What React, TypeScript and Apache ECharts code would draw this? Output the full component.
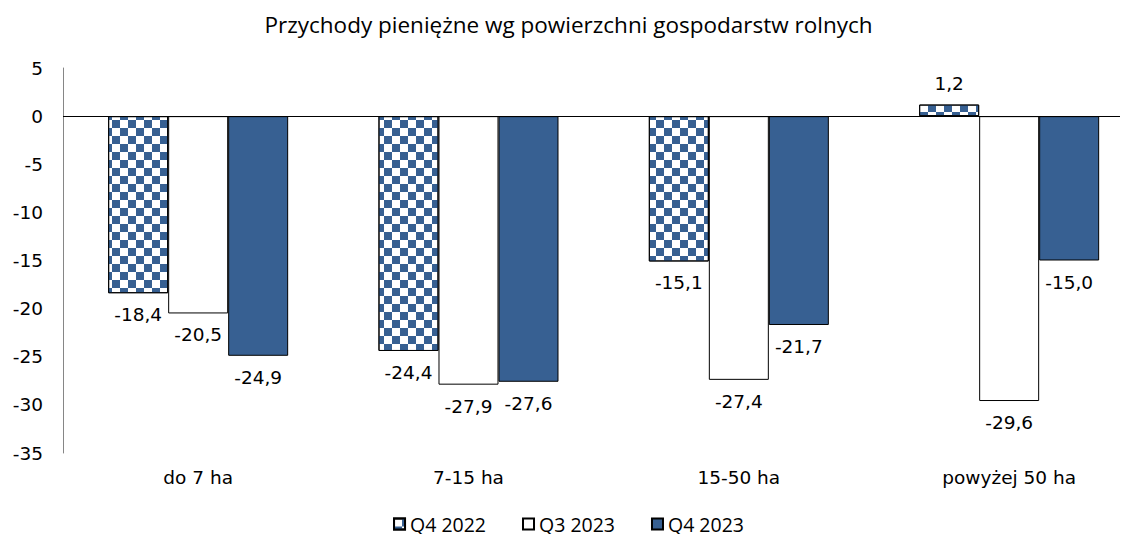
import React, { useEffect, useRef } from "react";
import * as echarts from "echarts";

const categories = ["do 7 ha", "7-15 ha", "15-50 ha", "powyżej 50 ha"];
const seriesNames = ["Q4 2022", "Q3 2023", "Q4 2023"];
const q42022 = [-18.4, -24.4, -15.1, 1.2];
const q32023 = [-20.5, -27.9, -27.4, -29.6];
const q42023 = [-24.9, -27.6, -21.7, -15.0];
const yTicks = { min: -35, max: 5, interval: 5 };

const BLUE = "#376092";
const FONT = "DejaVu Sans";
const FS = 18.5;

function fmt(v: number) {
  return v.toFixed(1).replace(".", ",");
}

function toData(vals: number[]) {
  return vals.map((v, i) => ({
    value: [i, v],
    label: { position: v >= 0 ? "top" : "bottom" },
  }));
}

export default function App() {
  const ref = useRef<HTMLDivElement>(null);
  useEffect(() => {
    if (!ref.current) return;
    const chart = echarts.init(ref.current, undefined, { renderer: "svg" });
    const label = {
      show: true,
      distance: 12,
      fontFamily: FONT,
      fontSize: FS,
      color: "#000",
      formatter: (p: any) => fmt(p.value[1]),
    };
    chart.setOption({
      animation: false,
      backgroundColor: "#fff",
      title: {
        text: "Przychody pieniężne wg powierzchni gospodarstw rolnych",
        left: "center",
        top: 8,
        textStyle: { fontFamily: "Open Sans", fontSize: 22.5, fontWeight: "normal", color: "#000" },
      },
      legend: {
        top: 511,
        left: "center",
        padding: [0, 5],
        icon: "rect",
        itemWidth: 11,
        itemHeight: 11,
        itemGap: 36,
        textStyle: { fontFamily: "Open Sans", fontSize: 19.5, color: "#000", lineHeight: 26 },
        data: seriesNames,
      },
      grid: { left: 63, right: 17, top: 68, bottom: 89 },
      xAxis: {
        type: "value",
        min: -0.5,
        max: 3.41,
        splitLine: { show: false },
        axisLine: { show: false },
        axisTick: { show: false },
        axisLabel: {
          customValues: [0, 1, 2, 3],
          formatter: (v: number) => categories[Math.round(v)] ?? "",
          margin: 15,
          fontFamily: FONT,
          fontSize: FS,
          color: "#000",
        },
      },
      yAxis: {
        type: "value",
        min: yTicks.min,
        max: yTicks.max,
        interval: yTicks.interval,
        splitLine: { show: false },
        axisLine: { show: true, onZero: false, lineStyle: { color: "#868686", width: 1 } },
        axisTick: { show: false },
        axisLabel: { fontFamily: FONT, fontSize: FS, color: "#000", margin: 20 },
      },
      series: [
        {
          name: seriesNames[0],
          type: "bar",
          barWidth: 60,
          barGap: "0%",
          data: toData(q42022),
          itemStyle: {
            color: "#fff",
            borderColor: "#000",
            borderWidth: 1,
            decal: {
              symbol: "rect",
              symbolSize: 1,
              color: BLUE,
              dashArrayX: [[8, 8], [0, 8, 8, 0]],
              dashArrayY: [8, 0],
              rotation: 0,
            },
          },
          label,
          markLine: {
            silent: true,
            symbol: "none",
            label: { show: false },
            lineStyle: { color: "#000", width: 1, type: "solid" },
            data: [{ yAxis: 0 }],
          },
        },
        {
          name: seriesNames[1],
          type: "bar",
          barWidth: 60,
          barGap: "0%",
          data: toData(q32023),
          itemStyle: { color: "#fff", borderColor: "#000", borderWidth: 1 },
          label,
        },
        {
          name: seriesNames[2],
          type: "bar",
          barWidth: 60,
          barGap: "0%",
          data: toData(q42023),
          itemStyle: { color: BLUE, borderColor: "#000", borderWidth: 1 },
          label,
        },
      ],
    });
    return () => chart.dispose();
  }, []);
  return <div ref={ref} style={{ width: 1137, height: 542, margin: -8 }} />;
}
